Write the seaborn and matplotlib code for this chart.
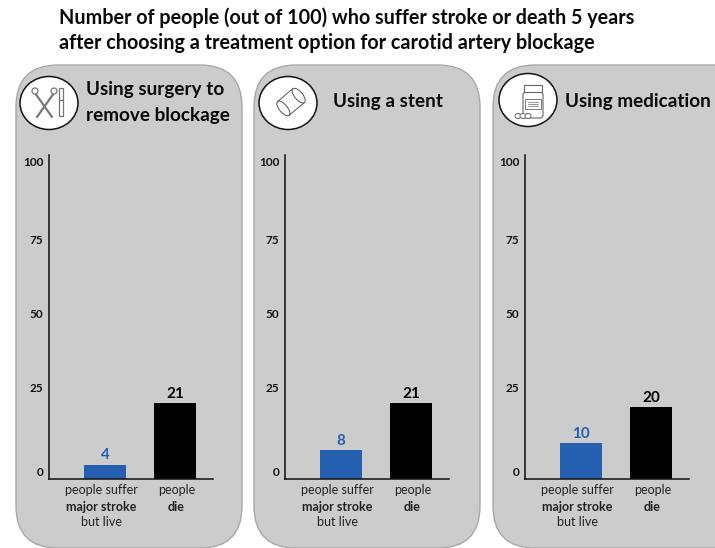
import matplotlib
matplotlib.use("Agg")
import matplotlib.pyplot as plt
from matplotlib.patches import FancyBboxPatch, Ellipse, Rectangle, Circle, Polygon
import numpy as np
import pandas as pd
import seaborn as sns

categories = ["people suffer major stroke but live", "people die"]
surgery = [4, 21]
stent = [8, 21]
medication = [10, 20]
tick_labels = ["0", "25", "50", "75", "100"]
title_lines = ["Number of people (out of 100) who suffer stroke or death 5 years",
               "after choosing a treatment option for carotid artery blockage"]

BLUE, BLACK = "#2560b0", "#000000"
W, H = 715, 548
sns.set_theme(style="white")
plt.rcParams["font.family"] = ["Lato", "DejaVu Sans"]

fig = plt.figure(figsize=(W / 100, H / 100), dpi=100, facecolor="white")
bg = fig.add_axes([0, 0, 1, 1], zorder=0)
bg.set_xlim(0, W); bg.set_ylim(H, 0); bg.axis("off")

for i, line in enumerate(title_lines):
    bg.text(59, 18 + 25 * i, line, fontsize=14.25, fontweight="bold", color="#0a0a0a", va="center", ha="left")

def panel(x0, x1):
    bg.add_patch(FancyBboxPatch((x0 + 42, 65 + 42), x1 - x0 - 84, 483 - 84,
                                boxstyle="round,pad=42,rounding_size=42",
                                fc="#cccccc", ec="#a8a8a8", lw=1.0))

def circle(cx, cy):
    bg.add_patch(Ellipse((cx, cy), 58, 53, fc="white", ec="#111111", lw=1.1, zorder=3))

def icon_surgery(cx, cy):
    c = "#777777"
    for a, b in ((-14, 3), (5, -12)):
        bg.plot([cx + a, cx + b], [cy - 10, cy + 14], color=c, lw=1.6, zorder=4)
        bg.add_patch(Circle((cx + a, cy - 12), 3, fc="white", ec=c, lw=0.9, zorder=5))
    bg.add_patch(Rectangle((cx + 10, cy - 15), 4, 12, fc="white", ec=c, lw=0.9, zorder=4))
    bg.add_patch(Rectangle((cx + 10, cy - 3), 4, 16, fc="white", ec=c, lw=0.9, zorder=4))

def icon_stent(cx, cy):
    c = "#555555"
    a = np.deg2rad(-40)
    u = np.array([np.cos(a), np.sin(a)]); v = np.array([-u[1], u[0]])
    ctr = np.array([cx + 3, cy - 1])
    pts = [ctr - 10 * u - 9 * v, ctr + 10 * u - 9 * v, ctr + 10 * u + 9 * v, ctr - 10 * u + 9 * v]
    bg.add_patch(Polygon(pts, closed=True, fc="white", ec=c, lw=0.7, zorder=4))
    for s in (-10, 10):
        bg.add_patch(Ellipse(ctr + s * u, 8, 18, angle=-40, fc="white", ec=c, lw=0.7, zorder=5))

def icon_med(cx, cy):
    c = "#666666"
    bx = cx + 5
    bg.add_patch(FancyBboxPatch((bx - 10, cy - 8), 20, 26, boxstyle="round,pad=0,rounding_size=3",
                                fc="white", ec=c, lw=0.8, zorder=4))
    bg.add_patch(Rectangle((bx - 9, cy - 15), 18, 7, fc="white", ec=c, lw=0.8, zorder=4))
    bg.add_patch(Rectangle((bx - 8, cy - 1), 16, 10, fc="white", ec=c, lw=0.6, zorder=5))
    for yy in (cy + 2, cy + 4, cy + 6):
        bg.plot([bx - 5, bx + 5], [yy, yy], color=c, lw=0.5, zorder=6)
    for dx in (-10, -5, 0):
        bg.add_patch(Ellipse((cx + dx, cy + 16), 6, 5, fc="white", ec=c, lw=0.7, zorder=6))

specs = [
    dict(vals=surgery, x0=16, x1=242, axis=49, c=(49, 103), icon=icon_surgery,
         heads=[("Using surgery to", 86, 90), ("remove blockage", 86, 115)]),
    dict(vals=stent, x0=254, x1=480, axis=285, c=(288, 103), icon=icon_stent,
         heads=[("Using a stent", 333, 102)]),
    dict(vals=medication, x0=493, x1=760, axis=525, c=(528, 100), icon=icon_med,
         heads=[("Using medication", 565, 102)]),
]

PX_PER_UNIT = 3.62
BASE, TOP = 479, 155
AX_W = 164
STEP = 70
FIRST = 56
tick_px = [472, 387, 313, 240, 162]

for s in specs:
    panel(s["x0"], s["x1"])
    circle(*s["c"])
    s["icon"](*s["c"])
    for txt, x, y in s["heads"]:
        bg.text(x, y, txt, fontsize=13.6, fontweight="bold", color="#0a0a0a", va="center", ha="left", zorder=6)

    ax = fig.add_axes([s["axis"] / W, 1 - BASE / H, AX_W / W, (BASE - TOP) / H], zorder=2)
    ax.patch.set_alpha(0)
    df = pd.DataFrame({"category": categories, "value": s["vals"]})
    sns.barplot(data=df, x="category", y="value", hue="category", palette=[BLUE, BLACK],
                width=0.61, legend=False, saturation=1, linewidth=0, ax=ax)
    ax.set_xlim(-FIRST / STEP, (AX_W - FIRST) / STEP)
    ax.set_ylim(0, (BASE - TOP) / PX_PER_UNIT)
    ax.set_xlabel(""); ax.set_ylabel("")
    ax.set_xticks([0, 1]); ax.set_xticklabels([])
    ax.set_yticks([(BASE - p) / PX_PER_UNIT for p in tick_px])
    ax.set_yticklabels(tick_labels, fontsize=8.5, fontweight="bold", color="#111111")
    ax.tick_params(axis="y", length=0, pad=4)
    ax.tick_params(axis="x", length=0)
    sns.despine(ax=ax)
    for sp in ("left", "bottom"):
        ax.spines[sp].set_color("#111111")
        ax.spines[sp].set_linewidth(1.1)
    for i, v in enumerate(s["vals"]):
        ax.annotate(str(v), (i, v), xytext=(0, 1.5), textcoords="offset points", ha="center", va="bottom",
                    fontsize=11, fontweight="bold", color=BLUE if i == 0 else BLACK)
    tf = ax.get_xaxis_transform()
    lines0 = [("people suffer", "normal", 490), ("major stroke", "bold", 507), ("but live", "normal", 522)]
    lines1 = [("people", "normal", 490), ("die", "bold", 507)]
    for i, lines in enumerate((lines0, lines1)):
        shift = -3.5 / STEP if i == 0 else 1.5 / STEP
        for txt, wt, y in lines:
            ax.text(i + shift, -(y - BASE) / (BASE - TOP), txt, transform=tf, ha="center", va="center",
                    fontsize=9, fontweight=wt, color="#222222", clip_on=False)

fig.savefig("out.png", dpi=100, facecolor="white")
